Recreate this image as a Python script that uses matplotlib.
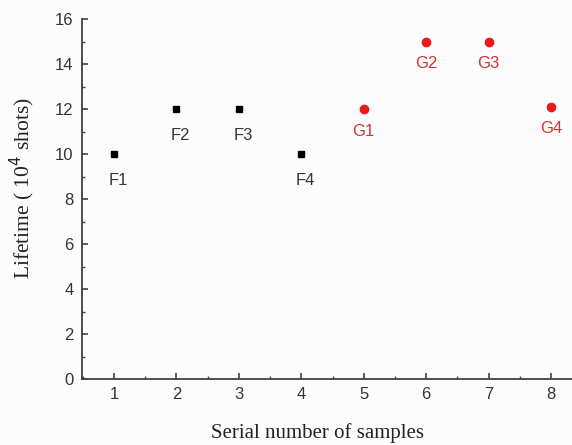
import numpy as np
import matplotlib
matplotlib.use('Agg')
import matplotlib.pyplot as plt
from matplotlib.ticker import MultipleLocator

# sample groups
f_samples = [1, 2, 3, 4]
f_lifetime = [10, 12, 12, 10]
f_names = ["F1", "F2", "F3", "F4"]

g_samples = [5, 6, 7, 8]
g_lifetime = [12, 15, 15, 12.1]
g_names = ["G1", "G2", "G3", "G4"]

x_ticks = [1, 2, 3, 4, 5, 6, 7, 8]
y_ticks = [0, 2, 4, 6, 8, 10, 12, 14, 16]

fig = plt.figure(figsize=(5.72, 4.45), dpi=100)
fig.patch.set_facecolor('#fcfcfc')
ax = fig.add_axes([82 / 572, 1 - 379 / 445, 1 - 82 / 572, 360 / 445])
ax.set_facecolor('#fcfcfc')

ax.plot(f_samples, f_lifetime, 's', color='black', markersize=5, clip_on=False)
ax.plot(g_samples, g_lifetime, 'o', color='#e81c1c', markersize=6, clip_on=False)

# point labels sit just below each marker
for x, y, name in zip(f_samples, f_lifetime, f_names):
    ax.annotate(name, (x, y), xytext=(3, -14), textcoords='offset points',
                ha='center', va='top', fontsize=12, color='#2f3642',
                family='Liberation Sans')
for x, y, name in zip(g_samples, g_lifetime, g_names):
    ax.annotate(name, (x, y), xytext=(0, -10.5), textcoords='offset points',
                ha='center', va='top', fontsize=12, color='#d8302e',
                family='Liberation Sans')

ax.set_xlim(0.487, 8.336)
ax.set_ylim(0, 16)
ax.set_xticks(x_ticks)
ax.set_yticks(y_ticks)
ax.xaxis.set_minor_locator(MultipleLocator(0.5))
ax.yaxis.set_minor_locator(MultipleLocator(1))

for side in ['top', 'right']:
    ax.spines[side].set_visible(False)
for side in ['left', 'bottom']:
    ax.spines[side].set_color('#404040')
    ax.spines[side].set_linewidth(1.3)

ax.tick_params(which='major', direction='in', length=4.5, width=1.2,
               color='#404040', labelsize=12, labelcolor='#333333', pad=6)
ax.tick_params(which='minor', direction='in', length=2.5, width=1.0,
               color='#404040')
for lab in ax.get_xticklabels() + ax.get_yticklabels():
    lab.set_family('Liberation Sans')

ax.set_xlabel('Serial number of samples', family='Liberation Serif',
              fontsize=15, color='#222222', va='center')
ax.xaxis.set_label_coords(0.48, -0.15)
ax.set_ylabel('Lifetime ( 10$^4$ shots)', family='Liberation Serif',
              fontsize=15.5, color='#222222', va='center')
ax.yaxis.set_label_coords(-0.122, 0.53)

fig.savefig('out.png', dpi=100, facecolor=fig.get_facecolor())
